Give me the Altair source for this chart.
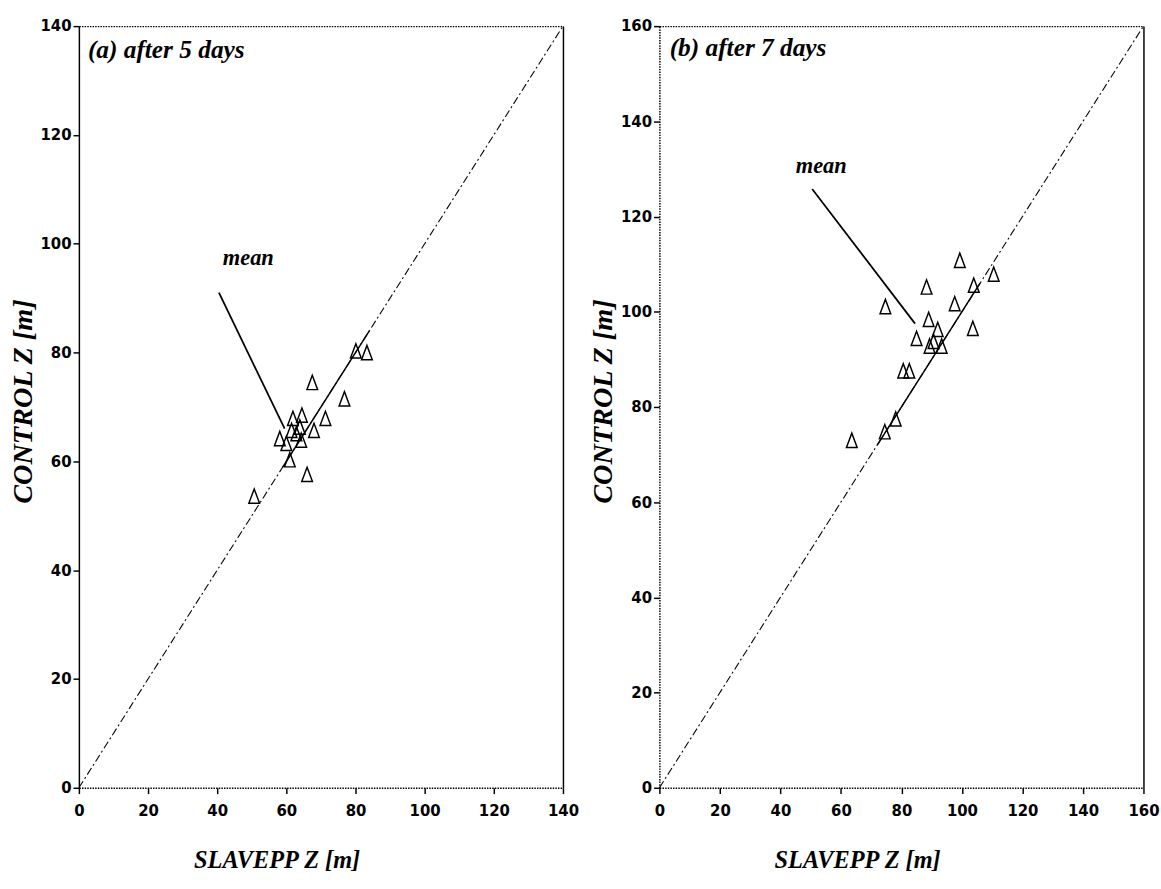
import altair as alt
import pandas as pd

# ---------------- data ----------------
# Panel (a): after 5 days
a_slavepp = [80.1, 83.3, 67.5, 76.8, 71.3, 68.0, 61.9, 64.5, 58.1, 60.0, 62.9, 64.3, 61.0, 66.0, 50.7, 61.5, 63.9]
a_control = [80.3, 80.0, 74.5, 71.5, 67.9, 65.7, 67.9, 68.5, 64.2, 63.3, 65.1, 63.9, 60.3, 57.6, 53.6, 65.7, 66.3]
# Panel (b): after 7 days
b_slavepp = [88.3, 99.3, 110.5, 103.9, 103.6, 97.6, 89.0, 92.0, 90.6, 89.3, 85.0, 93.3, 74.7, 80.6, 82.6, 78.1, 74.5, 63.6]
b_control = [105.2, 110.8, 107.9, 105.6, 96.5, 101.7, 98.4, 96.3, 93.8, 92.8, 94.4, 92.8, 101.1, 87.6, 87.6, 77.5, 74.8, 73.0]

a_ticks = [0, 20, 40, 60, 80, 100, 120, 140]
b_ticks = [0, 20, 40, 60, 80, 100, 120, 140, 160]

# 1:1 line end points and solid part of it
a_diag = [0, 140]
b_diag = [0, 160]
a_solid = [59, 84]
b_solid = [72, 106]

# "mean" pointer (start, end) and label position
a_mean_x = [40.5, 59.5]
a_mean_y = [91.0, 66.0]
a_mean_label = [49.0, 97.3]
b_mean_x = [50.5, 84.5]
b_mean_y = [125.8, 97.5]
b_mean_label = [53.5, 130.6]

a_title = "(a)  after 5 days"
b_title = "(b)  after 7 days"
a_title_pos = [2.6, 135.5]
b_title_pos = [3.4, 155.4]

x_title = "SLAVEPP Z [m]"
y_title = "CONTROL Z [m]"

# ---------------- styling ----------------
SERIF = "'Liberation Serif', 'Times New Roman', Times, 'Nimbus Roman', 'DejaVu Serif', serif"
TICKFONT = "'DejaVu Sans Condensed', 'Liberation Sans Narrow', 'Arial Narrow', 'Roboto Condensed', sans-serif"
TRI = "M-0.75,1L0,-1L0.75,1Z"
DOT = [1.5, 1.2]
W = 497
H = 782


def panel(xs, ys, ticks, diag, solid, mx, my, mlab, title, tpos, w, h, left_dotted):
    dmax = ticks[-1]
    xs_scale = alt.Scale(domain=[0, dmax], nice=False, zero=True)
    ys_scale = alt.Scale(domain=[0, dmax], nice=False, zero=True)

    x_bottom = alt.Axis(
        orient="bottom", values=ticks, grid=False, title=x_title,
        domainColor="black", domainDash=DOT, domainWidth=1.5,
        tickColor="black", tickSize=6, tickWidth=1.5,
        labelFont=TICKFONT, labelFontSize=17, labelFontWeight="bold",
        labelColor="black", labelPadding=9, labelFlush=False,
        titleFont=SERIF, titleFontSize=25, titleFontWeight="bold",
        titleFontStyle="italic", titleColor="black",
        titleX=203, titleY=74, titleBaseline="middle", titleAlign="center",
    )
    left_kw = dict(domainDash=DOT) if left_dotted else {}
    y_left = alt.Axis(
        orient="left", values=ticks, grid=False, title=y_title,
        domainColor="black", domainWidth=1.5,
        tickColor="black", tickSize=6, tickWidth=1.5,
        labelFont=TICKFONT, labelFontSize=17, labelFontWeight="bold",
        labelColor="black", labelPadding=2,
        titleFont=SERIF, titleFontSize=29, titleFontWeight="bold",
        titleFontStyle="italic", titleColor="black",
        titleX=-58, titleY=385, titleAngle=270,
        titleBaseline="middle", titleAlign="center",
        **left_kw,
    )
    x_top = alt.Axis(orient="top", grid=False, labels=False, ticks=False, title=None,
                     domainColor="black", domainDash=DOT, domainWidth=1.5)
    y_right = alt.Axis(orient="right", grid=False, labels=False, ticks=False, title=None,
                       domainColor="black", domainWidth=1.5)

    pts = pd.DataFrame({"x": xs, "y": ys})
    diag_df = pd.DataFrame({"x": diag, "y": diag})
    solid_df = pd.DataFrame({"x": solid, "y": solid})
    mean_df = pd.DataFrame({"x": [mx[0]], "y": [my[0]], "x2": [mx[1]], "y2": [my[1]]})
    mlab_df = pd.DataFrame({"x": [mlab[0]], "y": [mlab[1]], "t": ["mean"]})
    title_df = pd.DataFrame({"x": [tpos[0]], "y": [tpos[1]], "t": [title]})

    diag_l = alt.Chart(diag_df).mark_line(
        color="black", strokeWidth=1.1, strokeDash=[8, 3, 2, 3]
    ).encode(
        x=alt.X("x:Q", scale=xs_scale, axis=x_top),
        y=alt.Y("y:Q", scale=ys_scale, axis=y_right),
    )
    solid_l = alt.Chart(solid_df).mark_line(color="black", strokeWidth=1.5).encode(
        x=alt.X("x:Q", scale=xs_scale, axis=None),
        y=alt.Y("y:Q", scale=ys_scale, axis=None),
    )
    mean_l = alt.Chart(mean_df).mark_rule(color="black", strokeWidth=1.8).encode(
        x=alt.X("x:Q", scale=xs_scale, axis=None),
        y=alt.Y("y:Q", scale=ys_scale, axis=None),
        x2="x2:Q", y2="y2:Q",
    )
    pts_l = alt.Chart(pts).mark_point(
        shape=TRI, filled=False, stroke="black", strokeWidth=1.5, size=215, opacity=1
    ).encode(
        x=alt.X("x:Q", scale=xs_scale, axis=x_bottom),
        y=alt.Y("y:Q", scale=ys_scale, axis=y_left),
    )
    mlab_l = alt.Chart(mlab_df).mark_text(
        font=SERIF, fontSize=23, fontWeight="bold", fontStyle="italic",
        color="black", align="center", baseline="middle"
    ).encode(
        x=alt.X("x:Q", scale=xs_scale, axis=None),
        y=alt.Y("y:Q", scale=ys_scale, axis=None),
        text="t:N",
    )
    title_l = alt.Chart(title_df).mark_text(
        font=SERIF, fontSize=26, fontWeight="bold", fontStyle="italic",
        color="black", align="left", baseline="middle"
    ).encode(
        x=alt.X("x:Q", scale=xs_scale, axis=None),
        y=alt.Y("y:Q", scale=ys_scale, axis=None),
        text="t:N",
    )
    return alt.layer(diag_l, solid_l, mean_l, pts_l, mlab_l, title_l).resolve_axis(
        x="independent", y="independent"
    ).properties(width=w, height=h)


pa = panel(a_slavepp, a_control, a_ticks, a_diag, a_solid, a_mean_x, a_mean_y,
           a_mean_label, a_title, a_title_pos, W, H, False)
pb = panel(b_slavepp, b_control, b_ticks, b_diag, b_solid, b_mean_x, b_mean_y,
           b_mean_label, b_title, b_title_pos, W, H, True)

chart = alt.hconcat(pa, pb, spacing=11).properties(
    padding={"left": 9, "top": 6, "right": 2, "bottom": 2},
    background="white",
).configure_view(stroke=None)

chart.save("out.html", embed_options={"renderer": "svg", "actions": False})
